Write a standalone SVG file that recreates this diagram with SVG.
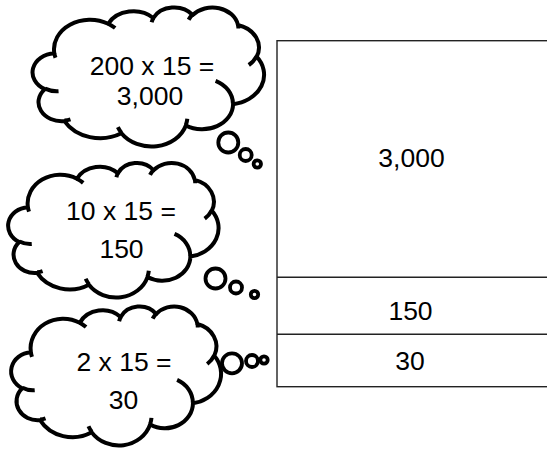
<svg xmlns="http://www.w3.org/2000/svg" xmlns:xlink="http://www.w3.org/1999/xlink" width="547" height="450" viewBox="0 0 547 450">
  <style>
    .cloud { fill: #fff; stroke: #000; stroke-width: 4; stroke-linejoin: round; vector-effect: non-scaling-stroke; }
    .crease { fill: none; stroke: #000; stroke-width: 4; stroke-linecap: butt; vector-effect: non-scaling-stroke; }
    .bubble { fill: #fff; stroke: #000; stroke-width: 3.8; }
    .grid { fill: none; stroke: #222; stroke-width: 1.4; }
    .num { font-family: "Liberation Sans", Arial, sans-serif; font-size: 26.5px; fill: #000; text-anchor: middle; }
  </style>
  <defs>
    <!-- cloud outline in a 432 x 432 box -->
    <path id="cloud-shape" class="cloud" d="M39,143.7
      A67.53,91.9 0 0 1 140.03,52.01
      A53.33,72.67 0 0 1 224.54,34.30
      A43.65,59.45 0 0 1 298.31,24.79
      A48.57,65.95 0 0 1 383.16,55.74
      A53.33,72.73 0 0 1 418.17,154.58
      A67.75,92.2 0 0 1 374.03,302.00
      A57.85,78.67 0 0 1 285.54,368.10
      A67.52,92.15 0 0 1 164.79,392.61
      A77.2,105.43 0 0 1 58.03,354.68
      A43.6,59.18 0 0 1 21.13,255.45
      A43.45,59.45 0 0 1 39,143.7 Z"/>
    <!-- inner creases between the puffs -->
    <path id="cloud-creases" class="crease" d="M46.93,261.77 A43.45,59.45 0 0 1 21.59,253.80
      M69.28,348.99 A43.6,59.18 0 0 1 58.19,352.81
      M164.78,390.90 A67.52,92.15 0 0 1 158.10,373.50
      M288.27,347.51 A67.52,92.15 0 0 1 285.60,366.61
      M341.29,229.54 A57.85,78.67 0 0 1 373.79,300.89
      M417.98,153.54 A53.33,72.73 0 0 1 403.50,180.30
      M383.24,54.26 A48.57,65.95 0 0 1 384.00,66.89
      M290.78,39.52 A48.57,65.95 0 0 1 298.19,23.42
      M221.41,47.20 A43.65,59.45 0 0 1 225.00,33.30
      M140.00,51.92 A67.53,91.9 0 0 1 153.03,65.43
      M41.27,157.89 A67.53,91.9 0 0 1 39.00,143.70"/>
  </defs>

  <!-- thought bubble: 200 x 15 -->
  <g id="thought-200">
    <use xlink:href="#cloud-shape" transform="translate(33.5,7) scale(0.53356,0.32176)"/>
    <circle class="bubble" cx="228.3" cy="142.5" r="10"/>
    <circle class="bubble" cx="245.7" cy="155" r="6"/>
    <circle class="bubble" cx="257.3" cy="164" r="3.7"/>
    <use xlink:href="#cloud-creases" transform="translate(33.5,7) scale(0.53356,0.32176)"/>
    <text class="num" x="152" y="75">200 x 15 =</text>
    <text class="num" x="150" y="105">3,000</text>
  </g>

  <!-- thought bubble: 10 x 15 -->
  <g id="thought-10">
    <use xlink:href="#cloud-shape" transform="translate(9,162.5) scale(0.48495,0.31134)"/>
    <circle class="bubble" cx="215.5" cy="278.5" r="10"/>
    <circle class="bubble" cx="236" cy="287.5" r="6"/>
    <circle class="bubble" cx="254.5" cy="294.5" r="3.7"/>
    <use xlink:href="#cloud-creases" transform="translate(9,162.5) scale(0.48495,0.31134)"/>
    <text class="num" x="121" y="220">10 x 15 =</text>
    <text class="num" x="121.5" y="258">150</text>
  </g>

  <!-- thought bubble: 2 x 15 -->
  <g id="thought-2">
    <use xlink:href="#cloud-shape" transform="translate(12,306) scale(0.4838,0.32176)"/>
    <circle class="bubble" cx="232" cy="363.3" r="10"/>
    <circle class="bubble" cx="252" cy="361" r="6"/>
    <circle class="bubble" cx="264" cy="360" r="3.7"/>
    <use xlink:href="#cloud-creases" transform="translate(12,306) scale(0.4838,0.32176)"/>
    <text class="num" x="124" y="370.5">2 x 15 =</text>
    <text class="num" x="123.5" y="409">30</text>
  </g>

  <!-- area model: 200 + 10 + 2 rows by 15 -->
  <g id="area-model">
    <rect class="grid" x="277" y="40.7" width="290" height="346"/>
    <line class="grid" x1="277" y1="277.3" x2="567" y2="277.3"/>
    <line class="grid" x1="277" y1="334.3" x2="567" y2="334.3"/>
    <text class="num" x="411.5" y="166.5">3,000</text>
    <text class="num" x="410.5" y="320">150</text>
    <text class="num" x="410" y="370">30</text>
  </g>
</svg>
